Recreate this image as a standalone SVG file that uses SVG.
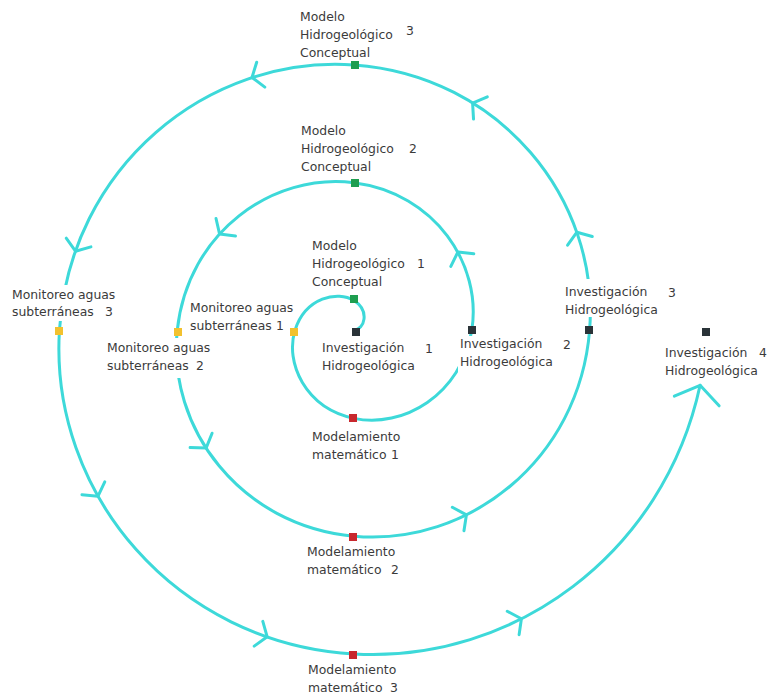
<svg xmlns="http://www.w3.org/2000/svg" width="767" height="696" viewBox="0 0 767 696">
<style>
.spiral{fill:none;stroke:#3dd9d9;stroke-width:3;stroke-linecap:round}
.chev{fill:none;stroke:#3dd9d9;stroke-width:3;stroke-linecap:round;stroke-linejoin:round}
.bg{fill:#ffffff}
text{font-family:"DejaVu Sans",Verdana,sans-serif;font-size:12.4px;fill:#3b3b3b}
.g{fill:#1e9e50}.r{fill:#c8282e}.y{fill:#f2c12e}.k{fill:#2a3338}
</style>
<defs>
<path id="chevM" class="chev" d="M-9.2,-13.1 L0,0 L-9.2,13.1"/>
<path id="chevE" class="chev" d="M-16.1,-22.9 L0,0 L-16.1,22.9"/>
</defs>
<rect width="767" height="696" fill="#ffffff"/>
<g id="connectors">
<path class="spiral" d="M354,330 C364.36,330 370.27,310.91 354,300.55 C337.73,290.19 305.46,297.47 295.10,330 C284.74,362.53 305.20,408.00 354,418.36 C402.80,428.72 461.45,395.06 471.81,330 C482.17,264.94 435.33,193.10 354,182.74 C272.67,172.38 187.65,232.40 177.29,330 C166.93,427.60 240.14,525.81 354,536.17 C467.86,546.53 579.26,460.13 589.62,330 C599.98,199.87 500.39,75.29 354,64.93 C207.61,54.57 69.84,167.34 59.48,330 C49.12,492.66 175.07,643.62 354,653.98 C513.24,663.20 663.82,553.94 700.1,385.3"/>
<use href="#chevM" transform="translate(252,77.5) rotate(161.94)"/>
<use href="#chevM" transform="translate(472.6,103.1) rotate(-148.21)"/>
<use href="#chevM" transform="translate(75.5,251.2) rotate(109.51)"/>
<use href="#chevM" transform="translate(576.9,232.2) rotate(-109.29)"/>
<use href="#chevM" transform="translate(219.6,234.1) rotate(131.98)"/>
<use href="#chevM" transform="translate(457.9,252) rotate(-118.69)"/>
<use href="#chevM" transform="translate(206.1,448.1) rotate(57.06)"/>
<use href="#chevM" transform="translate(466.4,514.9) rotate(-26.35)"/>
<use href="#chevM" transform="translate(97.9,496.3) rotate(60.51)"/>
<use href="#chevM" transform="translate(267.2,636.8) rotate(19.17)"/>
<use href="#chevM" transform="translate(521.4,618.8) rotate(-26.89)"/>
<use href="#chevE" transform="translate(700.1,385.3) rotate(-77.86)"/>
</g>
<g id="modelo3">
<text x="300" y="21">Modelo</text><text x="300" y="39">Hidrogeológico</text><text x="300" y="57">Conceptual</text><text x="406" y="35">3</text>
<rect class="g" x="351" y="61" width="8" height="8"/>
</g>
<g id="modelo2">
<text x="301" y="135">Modelo</text><text x="301" y="153">Hidrogeológico</text><text x="301" y="171">Conceptual</text><text x="409" y="153">2</text>
<rect class="g" x="351" y="179" width="8" height="8"/>
</g>
<g id="modelo1">
<text x="312" y="250">Modelo</text><text x="312" y="268">Hidrogeológico</text><text x="312" y="286">Conceptual</text><text x="417" y="268">1</text>
<rect class="g" x="350" y="295" width="8" height="8"/>
</g>
<g id="investigacion1">
<text x="322" y="352">Investigación</text><text x="322" y="370">Hidrogeológica</text><text x="425" y="353">1</text>
<rect class="k" x="352" y="328" width="8" height="8"/>
</g>
<g id="investigacion2">
<rect class="bg" x="458" y="336" width="114" height="36"/>
<text x="460" y="348">Investigación</text><text x="460" y="366">Hidrogeológica</text><text x="563" y="349">2</text>
<rect class="k" x="468" y="326" width="8" height="8"/>
</g>
<g id="investigacion3">
<rect class="bg" x="562" y="279" width="118" height="38"/>
<text x="565" y="296">Investigación</text><text x="565" y="314">Hidrogeológica</text><text x="668" y="297">3</text>
<rect class="k" x="585" y="326" width="8" height="8"/>
</g>
<g id="investigacion4">
<text x="665" y="357">Investigación</text><text x="665" y="375">Hidrogeológica</text><text x="759" y="357">4</text>
<rect class="k" x="702" y="328" width="8" height="8"/>
</g>
<g id="monitoreo1">
<text x="190" y="312">Monitoreo aguas</text><text x="190" y="330">subterráneas</text><text x="276" y="330">1</text>
<rect class="y" x="290" y="328" width="8" height="8"/>
</g>
<g id="monitoreo2">
<rect class="bg" x="105" y="338" width="112" height="40"/>
<text x="107" y="352">Monitoreo aguas</text><text x="107" y="370">subterráneas</text><text x="196" y="370">2</text>
<rect class="y" x="174" y="328" width="8" height="8"/>
</g>
<g id="monitoreo3">
<rect class="bg" x="10" y="285" width="108" height="36"/>
<text x="12" y="299">Monitoreo aguas</text><text x="12" y="316">subterráneas</text><text x="105" y="316">3</text>
<rect class="y" x="55" y="327" width="8" height="8"/>
</g>
<g id="modelamiento1">
<text x="312" y="441">Modelamiento</text><text x="312" y="459">matemático</text><text x="391" y="459">1</text>
<rect class="r" x="349" y="414" width="8" height="8"/>
</g>
<g id="modelamiento2">
<text x="307" y="556">Modelamiento</text><text x="307" y="574">matemático</text><text x="391" y="574">2</text>
<rect class="r" x="349" y="533" width="8" height="8"/>
</g>
<g id="modelamiento3">
<text x="308" y="674">Modelamiento</text><text x="308" y="692">matemático</text><text x="390" y="692">3</text>
<rect class="r" x="349" y="651" width="8" height="8"/>
</g>
</svg>
